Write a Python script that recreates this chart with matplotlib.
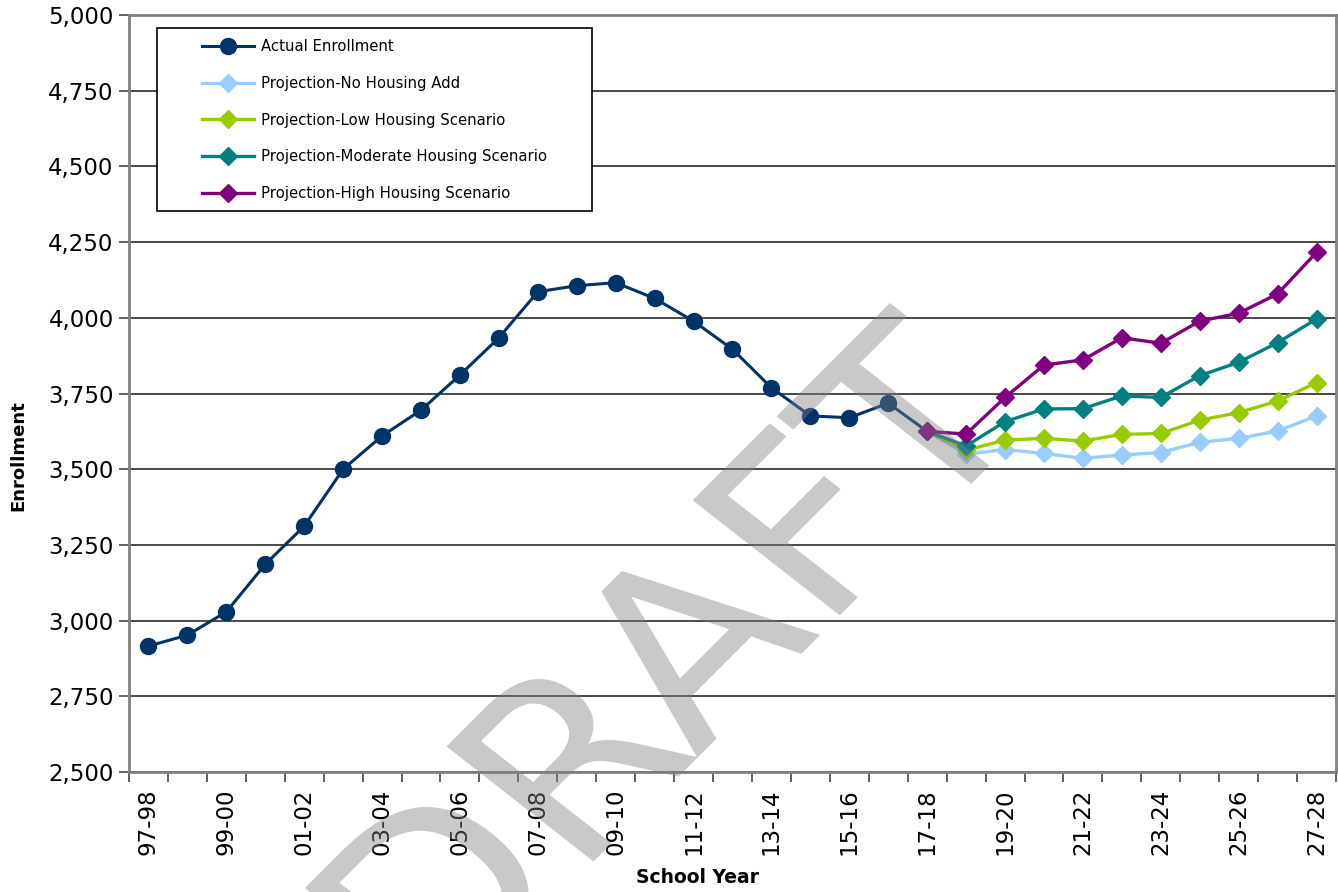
import numpy as np
import matplotlib
matplotlib.use('Agg')
from matplotlib import pyplot as plt
from matplotlib.patches import Rectangle, PathPatch
from matplotlib.textpath import TextPath
from matplotlib.font_manager import FontProperties
from matplotlib.transforms import Affine2D
from matplotlib.ticker import FuncFormatter, FixedLocator

plt.rcParams['font.family'] = ['DejaVu Sans']

years = ['97-98', '98-99', '99-00', '00-01', '01-02', '02-03', '03-04', '04-05',
         '05-06', '06-07', '07-08', '08-09', '09-10', '10-11', '11-12', '12-13',
         '13-14', '14-15', '15-16', '16-17', '17-18', '18-19', '19-20', '20-21',
         '21-22', '22-23', '23-24', '24-25', '25-26', '26-27', '27-28']

# actual enrollment 97-98 .. 17-18 (last point is the start of the projections)
actual = [2916, 2952, 3029, 3186, 3312, 3500, 3610, 3695, 3811, 3934, 4086,
          4106, 4116, 4064, 3989, 3896, 3769, 3676, 3670, 3718, 3625]

# projections 17-18 .. 27-28
proj_none = [3625, 3550, 3565, 3552, 3536, 3547, 3555, 3589, 3602, 3626, 3676]
proj_low = [3625, 3563, 3596, 3602, 3593, 3615, 3618, 3662, 3687, 3725, 3786]
proj_mod = [3625, 3577, 3657, 3699, 3700, 3742, 3737, 3809, 3853, 3918, 3996]
proj_high = [3625, 3616, 3737, 3844, 3861, 3934, 3916, 3989, 4015, 4079, 4216]

x_all = np.arange(len(years))
x_act = x_all[:len(actual)]
x_proj = x_all[len(actual) - 1:]

fig = plt.figure(figsize=(13.38, 8.92), dpi=100)
ax = fig.add_axes([0.0964, 0.1345, 0.9021, 0.8487])

ax.plot(x_act, actual, color='#003366', lw=2.2, marker='o', ms=11.5,
        markevery=list(range(len(actual) - 1)), label='Actual Enrollment', zorder=3)
ax.plot(x_proj, proj_none, color='#99CCFF', lw=2.4, marker='D', ms=9,
        label='Projection-No Housing Add', zorder=3)
ax.plot(x_proj, proj_low, color='#99CC00', lw=2.4, marker='D', ms=9,
        label='Projection-Low Housing Scenario', zorder=3)
ax.plot(x_proj, proj_mod, color='#008080', lw=2.4, marker='D', ms=9,
        label='Projection-Moderate Housing Scenario', zorder=3)
ax.plot(x_proj, proj_high, color='#800080', lw=2.4, marker='D', ms=9,
        label='Projection-High Housing Scenario', zorder=3)

ax.set_xlim(-0.5, len(years) - 0.5)
ax.set_ylim(2500, 5000)
ax.set_yticks(np.arange(2500, 5001, 250))
ax.yaxis.set_major_formatter(FuncFormatter(lambda v, p: f'{int(v):,}'))
ax.yaxis.grid(True, color='#3a3a3a', lw=1.3)
ax.set_axisbelow(True)

# tick marks on category edges, labels on every other category
ax.xaxis.set_major_locator(FixedLocator(np.arange(-0.5, len(years), 1.0)))
ax.xaxis.set_major_formatter(FuncFormatter(lambda v, p: ''))
ax.set_xticks(x_all[::2], minor=True)
ax.set_xticklabels(years[::2], minor=True, rotation=90)
ax.tick_params(axis='x', which='minor', length=0, labelsize=16.5, pad=12)
ax.tick_params(axis='x', which='major', length=7, width=1.3, color='#555555')
ax.tick_params(axis='y', length=7, width=1.3, color='#555555', labelsize=16.5, pad=4)

for s in ax.spines.values():
    s.set_color('#808080')
    s.set_linewidth(2)

ax.set_xlabel('School Year', fontsize=13.5, fontweight='bold')
ax.xaxis.set_label_coords(0.4706, -0.127)
ax.set_ylabel('Enrollment', fontsize=13, fontweight='bold')
ax.yaxis.set_label_coords(-0.084, 0.418)

# legend box is drawn separately so it can be wider than its entries
leg = ax.legend(loc='upper left', bbox_to_anchor=(202 / 1338, 1 - 39 / 892),
                bbox_transform=fig.transFigure, fontsize=10.75, frameon=False,
                labelspacing=1.46, handlelength=3.5, handletextpad=0.45,
                borderpad=0, borderaxespad=0)
leg.set_zorder(6)
ax.add_patch(Rectangle((157 / 1338, 1 - 211 / 892), 435 / 1338, 183 / 892,
                       transform=fig.transFigure, facecolor='white',
                       edgecolor='black', lw=1.2, zorder=5))

# watermark: slanted "DRAFT" laid over the plot, placed in pixel space
wm = TextPath((0, 0), 'DRAFT', size=260, prop=FontProperties(family='DejaVu Sans'))
ext = wm.get_extents()
along = np.array([1.0, 1.0]) / np.sqrt(2)
up = np.array([-147.0, 115.0]) / np.hypot(147, 115) * 0.985
corner = np.array([890.0, 892 - 303.0])
off = corner - ext.x1 * along - ext.y1 * up
mtx = np.array([[along[0], up[0], off[0]],
                [along[1], up[1], off[1]],
                [0.0, 0.0, 1.0]])
fig.add_artist(PathPatch(wm, transform=Affine2D(mtx), facecolor='#808080',
                         edgecolor='none', alpha=0.42, zorder=10))

fig.savefig('out.png', dpi=100)
